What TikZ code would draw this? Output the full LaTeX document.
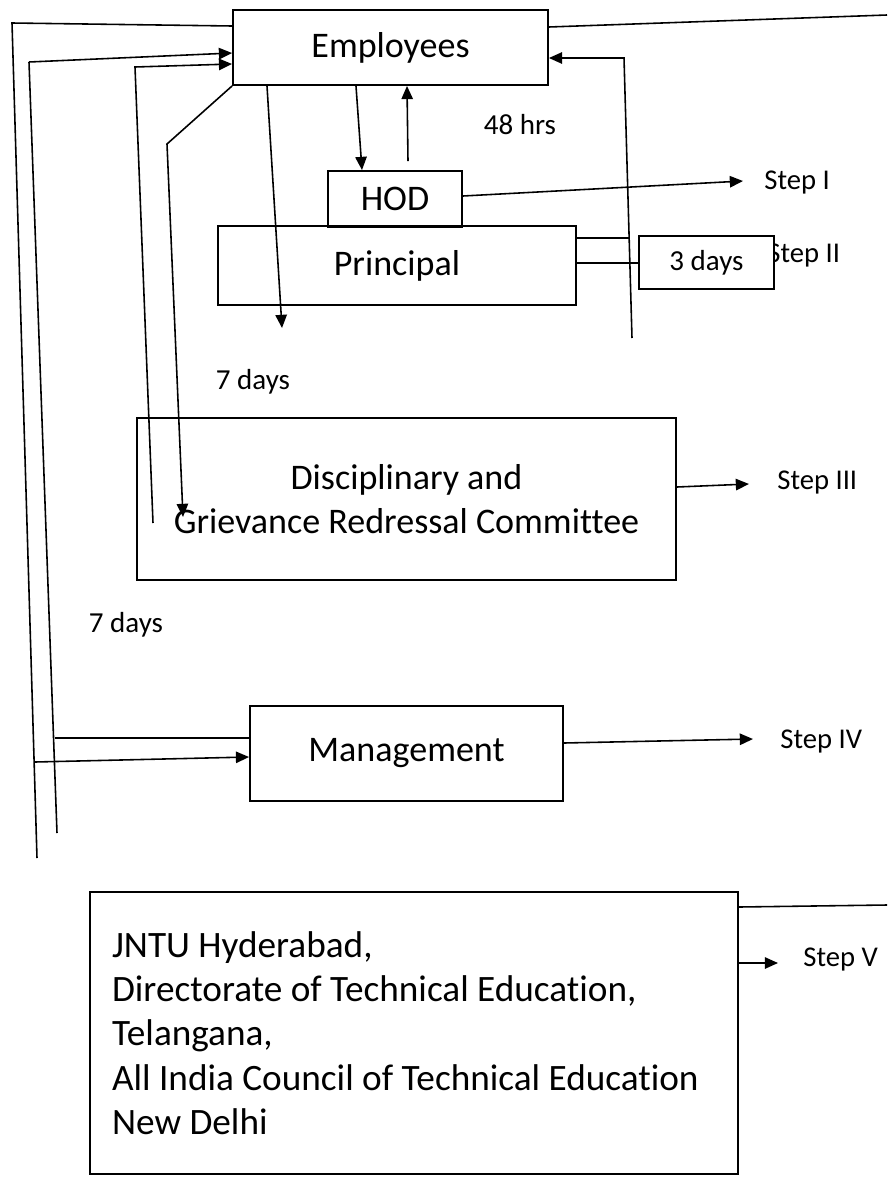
\documentclass[tikz,border=0pt]{standalone}
\usepackage{fontspec}
\setmainfont{Carlito}[Ligatures=NoCommon]
\usetikzlibrary{arrows.meta,calc}
\begin{document}
\begin{tikzpicture}[x=0.02cm,y=-0.02cm,>={Triangle[length=7.5pt,width=6.5pt]},
    box/.style={draw,line width=1.1pt,inner sep=0pt,font=\fontsize{20.5}{25.3}\selectfont},
    lbl/.style={anchor=west,inner sep=0pt,font=\fontsize{16.3}{19}\selectfont},
    dur/.style={inner sep=0pt,font=\fontsize{16.5}{19}\selectfont},
    line/.style={line width=0.9pt}]
              \useasboundingbox (0,0) rectangle (887,1180);
              \node[box,minimum width=6.3cm,minimum height=1.5cm] (emp) at (390.5,47.5) {Employees};
              \node[box,minimum width=2.68cm,minimum height=1.12cm,text depth=-0.12cm] (hod) at (395,199) {HOD};
              \node[box,minimum width=7.16cm,minimum height=1.58cm] (pri) at (397,265.5) {Principal};
              \node[lbl] (s2) at (767,256) {Step II};
              \node[box,fill=white,minimum width=2.7cm,minimum height=1.06cm,font=\fontsize{16.5}{19}\selectfont] (three) at (706.5,262.5) {3 days};
              \node[box,align=center,minimum width=10.78cm,minimum height=3.24cm] (disc) at (406.5,499) {Disciplinary and\\Grievance Redressal Committee};
              \node[box,minimum width=6.26cm,minimum height=1.9cm] (mgt) at (406.5,753.5) {Management};
              \node[box,align=flush left,text width=12.08cm,inner xsep=0.44cm,minimum height=5.64cm,font=\fontsize{21.2}{25.2}\selectfont] (jntu) at (414,1033) {JNTU Hyderabad,\\Directorate of Technical Education,\\Telangana,\\All India Council of Technical Education\\New Delhi};
              \node[dur] (hrs) at (520,125) {48 hrs};
              \node[dur] (d7a) at (253,382) {7 days};
              \node[dur] (d7b) at (126,625) {7 days};
              \node[lbl] (s1) at (764,183) {Step I};
              \node[lbl] (s3) at (777,483) {Step III};
              \node[lbl] (s4) at (780,742) {Step IV};
              \node[lbl] (s5) at (803,960) {Step V};
              \coordinate (rtop) at (624,58);
              \coordinate (rbot) at (632,338);
              \coordinate (aout) at (12,23);
              \coordinate (abot) at (37,858);
              \coordinate (bin) at (29,62);
              \coordinate (bbot) at (57,833);
              \coordinate (cin) at (135,67);
              \coordinate (cbot) at (153,523);
              \coordinate (dk) at (167,144);
              \draw[line,->] (emp.south -| 356,0) -- (hod.north -| 362,0);
              \draw[line,->] ($(hod.north)+(13,-9)$) -- (emp.south -| 407,0);
              \draw[line,->] (emp.south -| 267,0) -- (282,328);
              \draw[line,->] (hod.east |- 0,196) -- ($(s1.west)+(-21,-2)$);
              \draw[line] (pri.east |- 0,238) -- (629,238);
              \draw[line] (pri.east |- 0,263) -- (three.west |- 0,263);
              \draw[line,->] (rbot) -- (rtop) -- (emp.east |- rtop);
              \draw[line] (emp.east |- 0,27) -- (887,15);
              \draw[line] (emp.west |- 0,26) -- (aout) -- (abot);
              \draw[line,->] (35,762) -- (mgt.west |- 0,757);
              \draw[line] (bbot) -- (bin);
              \draw[line,->] (bin) -- (emp.west |- 0,53);
              \draw[line] (mgt.west |- 0,738) -- (55,738);
              \draw[line,->] (cbot) -- (cin) -- (emp.west |- 0,64);
              \draw[line,->] (emp.south west) -- (dk) -- (183,517);
              \draw[line,->] (disc.east |- 0,487) -- ($(s3.west)+(-28,1)$);
              \draw[line,->] (mgt.east |- 0,743) -- ($(s4.west)+(-27,-3)$);
              \draw[line,->] (jntu.east |- 0,963) -- ($(s5.west)+(-25,3)$);
              \draw[line] (jntu.east |- 0,907) -- (887,905);
\end{tikzpicture}
\end{document}
